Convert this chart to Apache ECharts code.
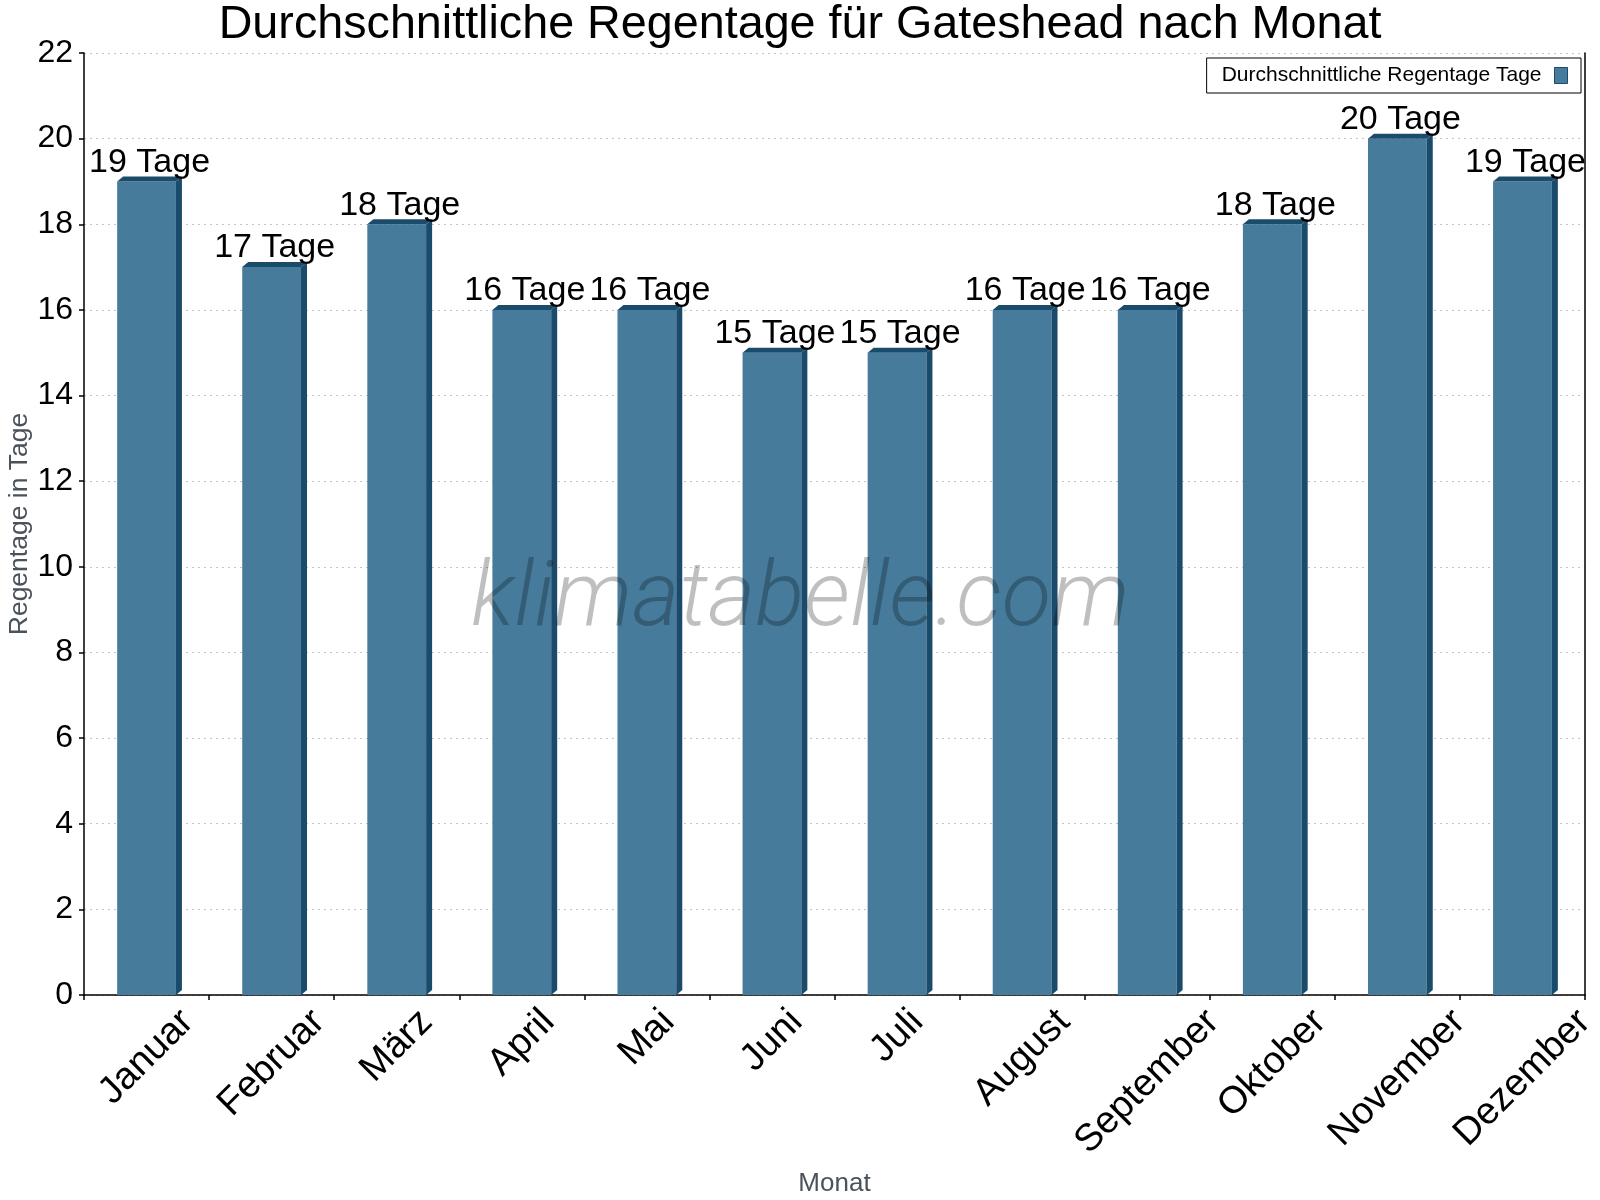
<!DOCTYPE html>
<html>
<head>
<meta charset="utf-8">
<script src="https://cdn.jsdelivr.net/npm/echarts@6/dist/echarts.min.js"></script>
<style>html,body{margin:0;padding:0;background:#fff}#c{width:1600px;height:1200px}</style>
</head>
<body>
<div id="c"></div>
<script>
const months = ['Januar','Februar','März','April','Mai','Juni','Juli','August','September','Oktober','November','Dezember'];
const rainDays = [19,17,18,16,16,15,15,16,16,18,20,19];
const yTicks = {min:0, max:22, interval:2};
const seriesName = 'Durchschnittliche Regentage Tage';
const unit = ' Tage';

const FONT = '"Liberation Sans", Arial, sans-serif';
const FRONT = '#467b9c';
const DARK = '#1b4b6b';
const CAT_FS = 38;
const VAL_FS = 34;

const cv = document.createElement('canvas').getContext('2d');
cv.font = CAT_FS + 'px "Liberation Sans"';
const catWidths = months.map(m => cv.measureText(m).width);

const chart = echarts.init(document.getElementById('c'), null, {renderer:'canvas'});
chart.setOption({
  animation:false,
  backgroundColor:'#fff',
  textStyle:{fontFamily:FONT},
  title:{text:'Durchschnittliche Regentage für Gateshead nach Monat', left:'center', top:2, padding:0,
    textStyle:{fontSize:46.7, fontWeight:'normal', color:'#000', fontFamily:FONT}},
  legend:{right:19, top:58, orient:'horizontal', align:'right', padding:[7,13,7,15],
    borderColor:'#000', borderWidth:1, backgroundColor:'#fff', itemWidth:13, itemHeight:16,
    textStyle:{fontSize:21, color:'#000', fontFamily:FONT, padding:[0,8,0,0]},
    data:[{name:seriesName, icon:'rect', itemStyle:{color:FRONT, borderColor:DARK, borderWidth:1}}]},
  grid:{left:84, right:15, top:53, bottom:205, outerBoundsMode:'none', containLabel:false},
  xAxis:{type:'category', data:months, boundaryGap:true,
    name:'Monat', nameLocation:'middle', nameGap:176, nameMoveOverlap:false,
    nameTextStyle:{fontSize:26, color:'#4a525a', fontFamily:FONT},
    axisLine:{show:true, lineStyle:{color:'#000', width:1.5}},
    axisTick:{show:true, alignWithLabel:false, length:5, lineStyle:{color:'#000', width:1.5}},
    axisLabel:{show:false},
    splitLine:{show:false}},
  yAxis:[{type:'value', min:yTicks.min, max:yTicks.max, interval:yTicks.interval,
    name:'Regentage in Tage', nameLocation:'middle', nameGap:51, nameRotate:90, nameMoveOverlap:false,
    nameTextStyle:{fontSize:26.5, color:'#4a525a', fontFamily:FONT},
    axisLine:{show:true, lineStyle:{color:'#000', width:1.5}},
    axisTick:{show:true, length:5, lineStyle:{color:'#000', width:1.5}},
    axisLabel:{fontSize:32, color:'#000', margin:11, fontFamily:FONT},
    splitLine:{show:true, lineStyle:{color:'#c4c4c4', type:[2,4], width:1}}},
   {type:'value', position:'right', min:yTicks.min, max:yTicks.max, interval:yTicks.interval,
    axisLine:{show:true, onZero:false, lineStyle:{color:'#000', width:1.5}},
    axisTick:{show:false}, axisLabel:{show:false}, splitLine:{show:false}}],
  graphic:[{type:'text', left:471, top:557, z:100, silent:true,
    style:{text:'klimatabelle.com', font:'italic 300 91px Roboto', fill:'rgba(0,0,0,0.25)'}}],
  series:[{name:seriesName, type:'custom', itemStyle:{color:FRONT}, clip:false,
    data: rainDays.map((v,i)=>[i,v]),
    encode:{x:0, y:1},
    renderItem:function(params, api){
      const idx = api.value(0), v = api.value(1);
      const top = api.coord([idx, v]);
      const base = api.coord([idx, 0]);
      const band = api.size([1,0])[0];
      const w = band*0.47, dx = 6, dy = 5;
      const x0 = top[0]-w/2, x1 = top[0]+w/2;
      const tw = catWidths[idx];
      const H = (tw + CAT_FS * 0.9) * Math.SQRT1_2;
      return {type:'group', children:[
        {type:'rect', shape:{x:x0, y:top[1], width:w, height:base[1]-top[1]}, style:{fill:FRONT}},
        {type:'polygon', shape:{points:[[x1,top[1]],[x1+dx,top[1]-dy],[x1+dx,base[1]-dy],[x1,base[1]]]}, style:{fill:DARK}},
        {type:'polygon', shape:{points:[[x0,top[1]],[x0+dx,top[1]-dy],[x1+dx,top[1]-dy],[x1,top[1]]]}, style:{fill:DARK}},
        {type:'text', z2:10, style:{text: v + unit, x: top[0]+dx/2, y: top[1]-dy+3, align:'center', verticalAlign:'bottom',
          font: VAL_FS + 'px "Liberation Sans"', fill:'#000'}},
        {type:'text', x: base[0], y: base[1] + 9 + H/2, rotation: Math.PI/4,
          style:{text: months[idx], x:0, y:0, align:'center', verticalAlign:'middle',
          font: CAT_FS + 'px "Liberation Sans"', fill:'#000'}}
      ]};
    }}]
});
</script>
</body>
</html>
